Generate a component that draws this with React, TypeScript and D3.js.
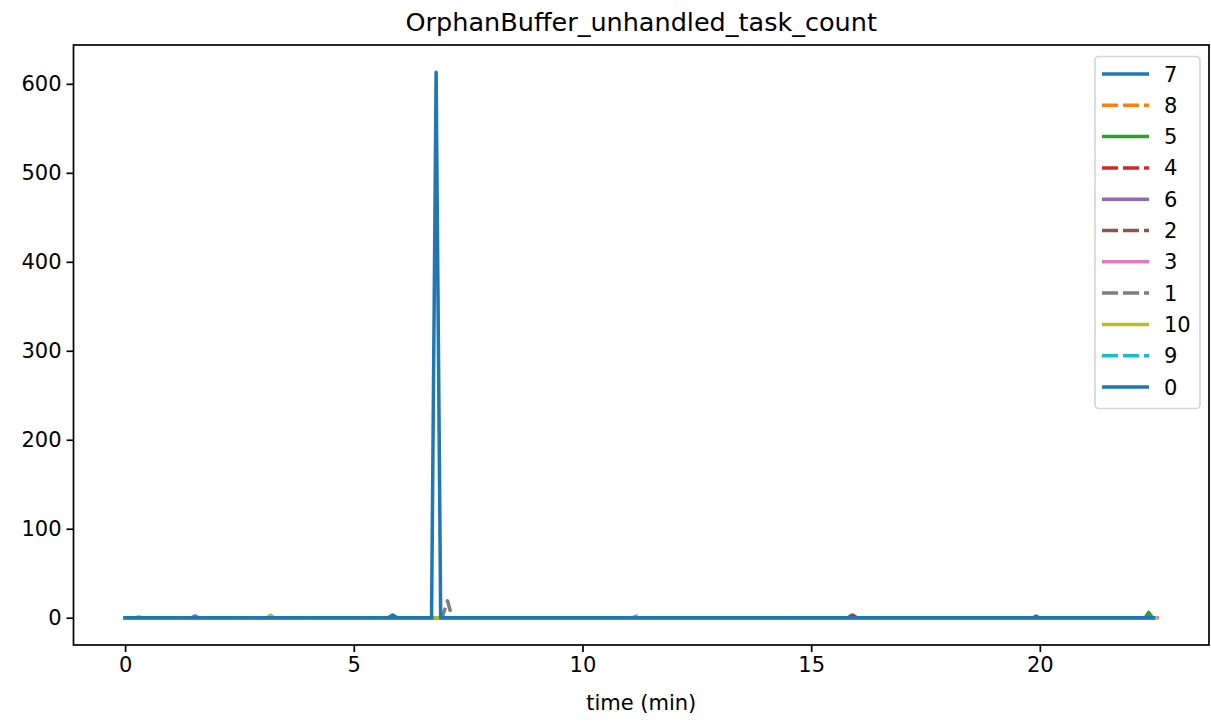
import { useEffect, useRef } from 'react';
import * as d3 from 'd3';

// legend order = plotting order
const seriesNames = ["7", "8", "5", "4", "6", "2", "3", "1", "10", "9", "0"];
const seriesColors = ["#1f77b4", "#ff7f0e", "#2ca02c", "#d62728", "#9467bd", "#8c564b", "#e377c2", "#7f7f7f", "#bcbd22", "#17becf", "#1f77b4"];
const seriesDashed = [false, true, false, true, false, true, false, true, false, true, false];

// time (min) / count pairs per series
const times7 = [0, 5.75, 5.85, 5.95, 22.5];
const values7 = [0, 0, 3, 0, 0];
const times8 = [0, 11.1, 11.19, 11.28, 22.53];
const values8 = [0, 0, 2, 0, 0];
const times5 = [0, 22.3, 22.38, 22.46, 22.5];
const values5 = [0, 0, 6, 0, 0];
const times4 = [0, 15.8, 15.9, 16.0, 22.5];
const values4 = [0, 0, 3, 0, 0];
const times6 = [0, 1.45, 1.53, 1.61, 22.5];
const values6 = [0, 0, 2, 0, 0];
const times2 = [0, 19.85, 19.92, 19.99, 22.5];
const values2 = [0, 0, 2, 0, 0];
const times3 = [0, 0.22, 0.3, 0.38, 22.57];
const values3 = [0, 0, 1, 0, 0];
const times1 = [0, 6.93, 7.05, 7.15, 22.5];
const values1 = [0, 0, 19, 0, 0];
const times10 = [0, 3.1, 3.18, 3.26, 22.53];
const values10 = [0, 0, 3, 0, 0];
const times9 = [0, 14.42, 14.49, 14.56, 22.53];
const values9 = [0, 0, 1, 0, 0];
const times0 = [0, 6.7, 6.8, 6.9, 22.48];
const values0 = [0, 0, 613, 0, 0];

const seriesTimes = [times7, times8, times5, times4, times6, times2, times3, times1, times10, times9, times0];
const seriesValues = [values7, values8, values5, values4, values6, values2, values3, values1, values10, values9, values0];

const xTicks = [0, 5, 10, 15, 20];
const yTicks = [0, 100, 200, 300, 400, 500, 600];

export default function App() {
  const svgRef = useRef<SVGSVGElement>(null);

  useEffect(() => {
    if (!svgRef.current) return;
    d3.select(svgRef.current).selectAll("*").remove();

    const W = 1211, H = 721;
    const left = 73.5, right = 1209, top = 45, bottom = 645;
    const font = "DejaVu Sans, sans-serif";
    const lw = 3.5;

    const svg = d3.select(svgRef.current)
      .attr("width", W)
      .attr("height", H)
      .attr("viewBox", `0 0 ${W} ${H}`);

    svg.append("rect").attr("width", W).attr("height", H).attr("fill", "#fff");

    const allT = seriesTimes.flat();
    const allV = seriesValues.flat();
    const [tMin, tMax] = d3.extent(allT) as [number, number];
    const [vMin, vMax] = d3.extent(allV) as [number, number];
    const tPad = (tMax - tMin) * 0.05;
    const vPad = (vMax - vMin) * 0.05;

    const x = d3.scaleLinear().domain([tMin - tPad, tMax + tPad]).range([left, right]);
    const y = d3.scaleLinear().domain([vMin - vPad, vMax + vPad]).range([bottom, top]);

    // lines
    const line = d3.line<[number, number]>().x(d => x(d[0])).y(d => y(d[1]));
    seriesNames.forEach((name, i) => {
      const pts = seriesTimes[i].map((t, k) => [t, seriesValues[i][k]] as [number, number]);
      svg.append("path")
        .attr("d", line(pts))
        .attr("fill", "none")
        .attr("stroke", seriesColors[i])
        .attr("stroke-width", lw)
        .attr("stroke-linejoin", "round")
        .attr("stroke-linecap", seriesDashed[i] ? "butt" : "square")
        .attr("stroke-dasharray", seriesDashed[i] ? "13,5.5" : null);
    });

    // axes
    const xAxis = svg.append("g")
      .attr("transform", `translate(0,${bottom})`)
      .call(d3.axisBottom(x).tickValues(xTicks).tickSize(7).tickPadding(5).tickFormat(d3.format("d")));
    const yAxis = svg.append("g")
      .attr("transform", `translate(${left},0)`)
      .call(d3.axisLeft(y).tickValues(yTicks).tickSize(7).tickPadding(5).tickFormat(d3.format("d")));
    [xAxis, yAxis].forEach(a => {
      a.select(".domain").remove();
      a.selectAll("line").attr("stroke", "#000").attr("stroke-width", 1.7);
      a.selectAll("text").attr("fill", "#000").style("font-family", font).style("font-size", "21px");
    });

    // spines
    svg.append("rect")
      .attr("x", left).attr("y", top)
      .attr("width", right - left).attr("height", bottom - top)
      .attr("fill", "none").attr("stroke", "#000").attr("stroke-width", 1.7);

    // title & label
    svg.append("text")
      .attr("x", (left + right) / 2).attr("y", 31)
      .attr("text-anchor", "middle")
      .style("font-family", font).style("font-size", "25.5px")
      .text("OrphanBuffer_unhandled_task_count");
    svg.append("text")
      .attr("x", (left + right) / 2).attr("y", 710)
      .attr("text-anchor", "middle")
      .style("font-family", font).style("font-size", "21px")
      .text("time (min)");

    // legend
    const lg = svg.append("g");
    lg.append("rect")
      .attr("x", 1095).attr("y", 56.5).attr("width", 105).attr("height", 352).attr("rx", 4)
      .attr("fill", "#fff").attr("fill-opacity", 0.8)
      .attr("stroke", "#d6d6d6").attr("stroke-width", 1.7);
    seriesNames.forEach((name, i) => {
      const yy = 74 + i * 31.3;
      lg.append("line")
        .attr("x1", 1102).attr("x2", 1149).attr("y1", yy).attr("y2", yy)
        .attr("stroke", seriesColors[i]).attr("stroke-width", lw)
        .attr("stroke-dasharray", seriesDashed[i] ? "16,5" : null);
      lg.append("text")
        .attr("x", 1164).attr("y", yy).attr("dy", "0.36em")
        .style("font-family", font).style("font-size", "21px")
        .text(name);
    });
  }, []);

  return (
    <div style={{ position: "absolute", left: 0, top: 0 }}>
      <svg ref={svgRef} style={{ display: "block" }} />
    </div>
  );
}
